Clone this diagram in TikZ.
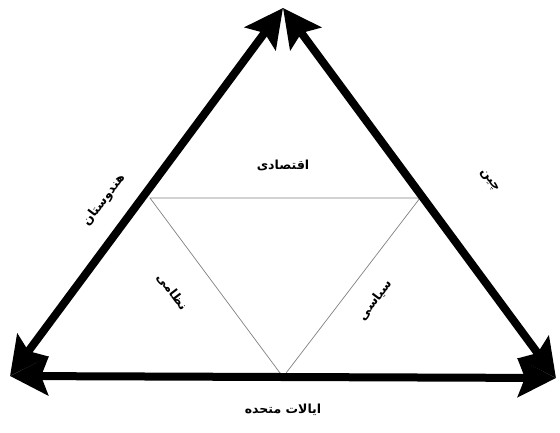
\documentclass[tikz,border=0pt]{standalone}
\usepackage{fontspec}
\newfontfamily\arabicfont[Script=Arabic]{DejaVu Sans}
\TeXXeTstate=1
\usetikzlibrary{arrows.meta}

\begin{document}
\begin{tikzpicture}[x=1pt, y=-1pt,
        side/.style={{Stealth[length=38pt, width=38pt, inset=7pt]}-{Stealth[length=38pt, width=38pt, inset=7pt]}, line width=8pt},
        inner/.style={draw=gray, line width=0.7pt},
        lbl/.style={font=\arabicfont\bfseries\fontsize{12.5}{14}\selectfont}
      ]
      \useasboundingbox (0,0) rectangle (560,432);
      \coordinate (apex) at (283,8);
      \coordinate (bl) at (10,376);
      \coordinate (br) at (556,378);
      \coordinate (il) at (150,198);
      \coordinate (ir) at (420,198);
      \coordinate (ib) at (283,377);
      \draw[inner] (il) -- (ir) -- (ib) -- cycle;
      \draw[side] (bl) -- (apex);
      \draw[side] (apex) -- (br);
      \draw[side] (bl) -- (br);
      \node[lbl] (econ) at (283,165) {\beginR اقتصادی\endR};
      \node[lbl, rotate=53] (india) at (104,200) {\beginR هندوستان\endR};
      \node[lbl, rotate=-53] (china) at (489,181) {\beginR چین\endR};
      \node[lbl, rotate=-53] (milit) at (172,292) {\beginR نظامی\endR};
      \node[lbl, rotate=53] (polit) at (375,300) {\beginR سیاسی\endR};
      \node[lbl] (usa) at (283,410) {\beginR ایالات متحده\endR};
    \end{tikzpicture}
\end{document}
